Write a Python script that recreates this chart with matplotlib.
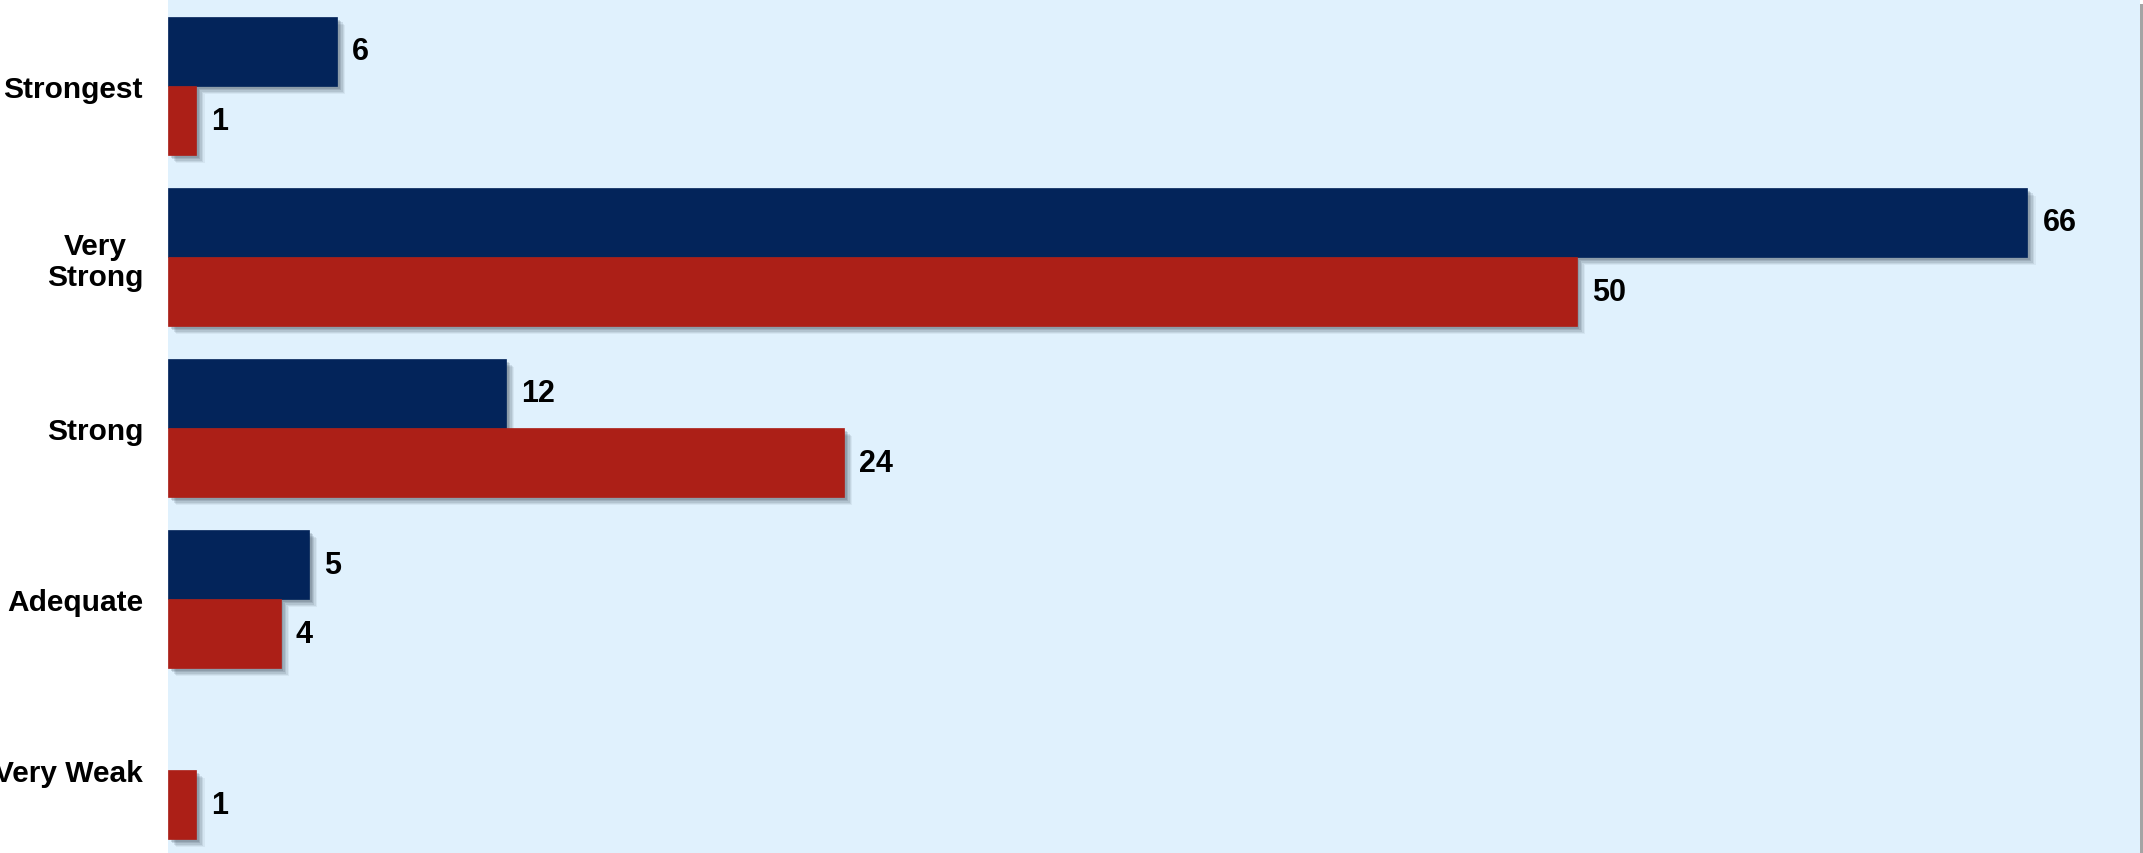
import numpy as np
import matplotlib
matplotlib.use("Agg")
import matplotlib.pyplot as plt
import matplotlib.patheffects as pe

plt.rcParams['font.family'] = ['Liberation Sans', 'DejaVu Sans']

# Rating categories (top to bottom) and the two series counts
categories = ['Strongest', 'Very\nStrong', 'Strong', 'Adequate', 'Very Weak']
series_navy = [6, 66, 12, 5, None]
series_red = [1, 50, 24, 4, 1]

NAVY = '#03245A'
RED = '#AC1F17'
PANEL = '#E0F1FD'

W, H = 2143, 854
fig = plt.figure(figsize=(W / 100, H / 100), dpi=100)
fig.patch.set_facecolor('white')
ax = fig.add_axes([168 / W, 0, 1972 / W, 853 / H])
ax.set_facecolor(PANEL)
ax.patch.set_path_effects([
    pe.SimplePatchShadow(offset=(2.2, -3), shadow_rgbFace='#a4a4a4', alpha=1.0),
    pe.Normal(),
])

bar_h = 0.404
y = np.arange(len(categories))


def soft_shadow():
    layers = []
    for d, a in [(6.0, 0.07), (5.0, 0.10), (4.0, 0.13), (3.0, 0.16), (2.0, 0.18)]:
        layers.append(pe.SimplePatchShadow(offset=(d, -d), shadow_rgbFace='#3c4c5c', alpha=a))
    layers.append(pe.Normal())
    return layers


def draw_series(values, offset, color):
    for yi, v in zip(y, values):
        if v is None:
            continue
        bars = ax.barh(yi + offset, v, height=bar_h, color=color, edgecolor=color,
                       linewidth=0.5, zorder=3)
        for b in bars:
            b.set_path_effects(soft_shadow())
        ax.annotate(f'{v}', xy=(v, yi + offset), xytext=(11, 0),
                    textcoords='offset points', va='center', ha='left',
                    fontsize=22, fontweight='bold', color='black', zorder=4)


draw_series(series_navy, -bar_h / 2, NAVY)
draw_series(series_red, bar_h / 2, RED)

ax.set_xlim(0, 70)
ax.set_ylim(4.485, -0.503)
ax.set_yticks(y)
ax.set_yticklabels(categories, fontsize=21.5, fontweight='bold', ha='right',
                   multialignment='center', linespacing=1.15)
ax.tick_params(axis='y', length=0, pad=18)
ax.set_xticks([])
for s in ax.spines.values():
    s.set_visible(False)

fig.savefig('out.png', dpi=100, facecolor='white')
